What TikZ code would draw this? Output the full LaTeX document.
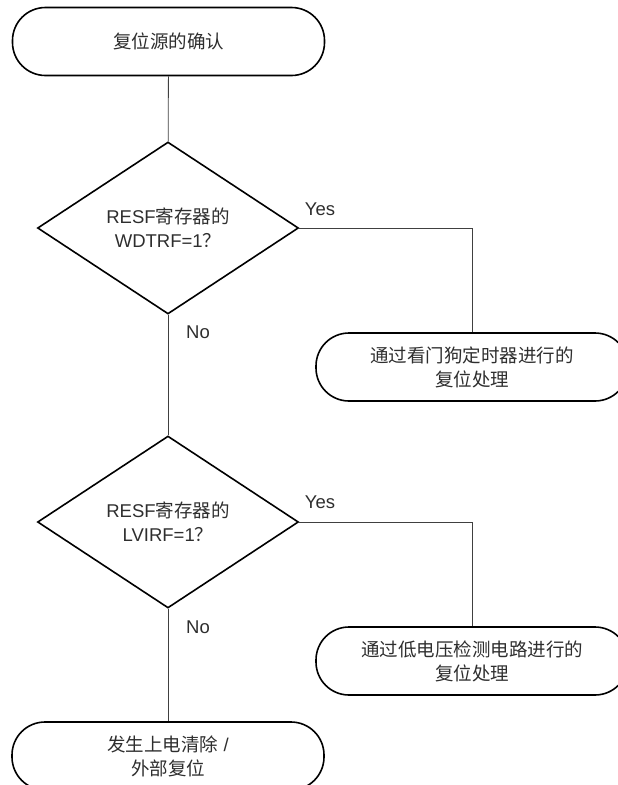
\documentclass[tikz,border=0pt]{standalone}
\usepackage{fontspec}
\setmainfont{Liberation Sans}
\newfontfamily\cjk{Noto Sans CJK SC}
\usetikzlibrary{shapes.geometric,calc}
\definecolor{txt}{HTML}{2E2E2E}
\tikzset{
  every node/.style={font=\fontsize{18.5}{24}\selectfont, text=txt},
  term/.style={draw=black, line width=1.6pt, rounded corners=33pt, minimum width=312pt, minimum height=68pt, align=center, inner sep=0pt},
  decide/.style={draw=black, line width=1.6pt, shape=diamond, aspect=1.5, minimum width=261pt, minimum height=172pt, inner sep=0pt, align=center},
  conn/.style={draw=black!75, line width=0.8pt},
  lbl/.style={inner sep=0pt}
}
\begin{document}
\begin{tikzpicture}[x=1pt,y=-1pt]
\useasboundingbox (0,0) rectangle (618,785);
\node[term] (start) at (168.5,41.5) {\cjk 复位源的确认};
\node[decide] (d1) at (168,228) {RESF{\cjk 寄存器的}\\WDTRF=1{\cjk ？}};
\node[term] (wdt) at (472,367) {\cjk 通过看门狗定时器进行的\\\cjk 复位处理};
\node[decide] (d2) at (168,522) {RESF{\cjk 寄存器的}\\LVIRF=1{\cjk ？}};
\node[term] (lvi) at (472,661) {\cjk 通过低电压检测电路进行的\\\cjk 复位处理};
\node[term] (ext) at (168,756) {{\cjk 发生上电清除}\ /\\\cjk 外部复位};
\draw[conn] (start) -- (d1);
\draw[conn] (d1.east) -| (wdt.north);
\draw[conn] (d1) -- (d2);
\draw[conn] (d2.east) -| (lvi.north);
\draw[conn] (d2) -- (ext);
\node[lbl] (y1) at (320,209) {Yes};
\node[lbl] (n1) at (198,332) {No};
\node[lbl] (y2) at (320,502) {Yes};
\node[lbl] (n2) at (198,627) {No};
\end{tikzpicture}
\end{document}
